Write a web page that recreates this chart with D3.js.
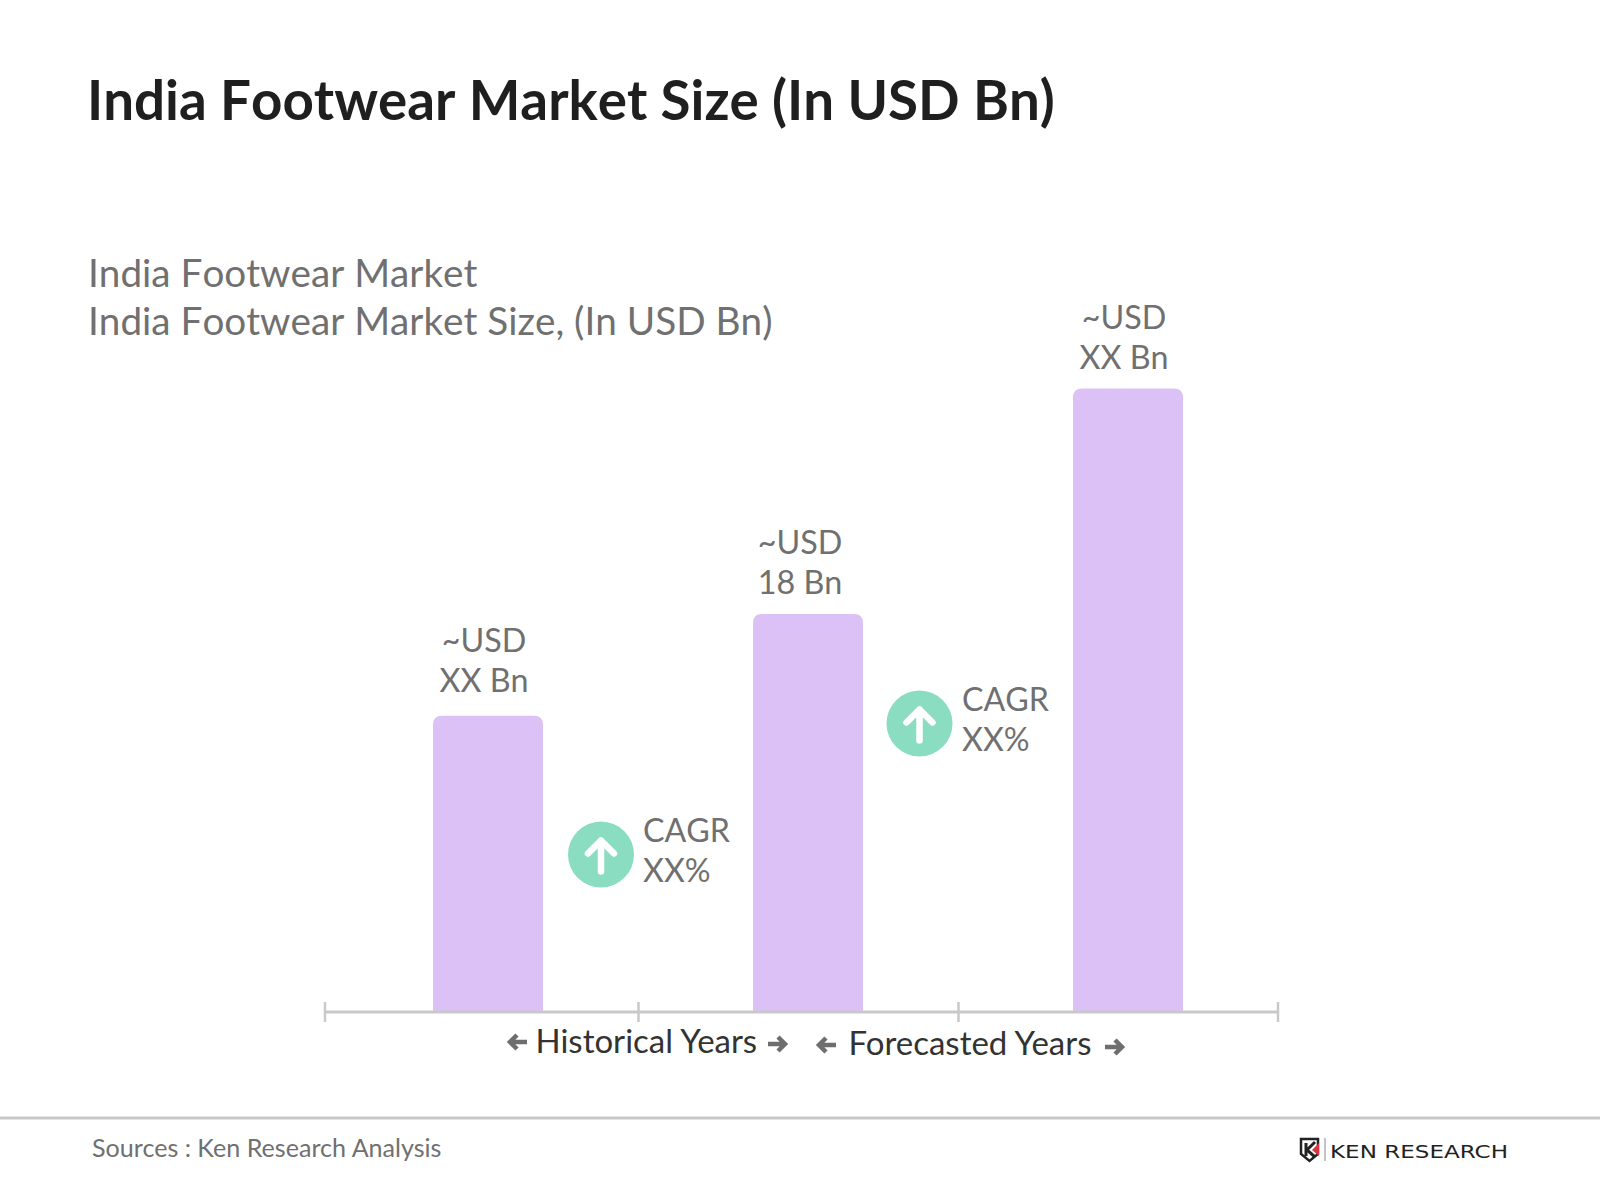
<!DOCTYPE html>
<html lang="en">
<head>
    <meta charset="utf-8">
    <title>India Footwear Market Size</title>
    <script src="https://d3js.org/d3.v7.min.js"></script>
    <style>
        html, body { margin: 0; padding: 0; background: #fff; }
        text { font-family: Lato, sans-serif; }
    </style>
</head>
<body>
    <div id="chart-container"></div>

    <script>
        // values, the middle bar is the only one labelled with a number
        const periods = ['Start', 'Base', 'End'];
        const marketSize = [13.4, 18, 28.2];
        const barLabels = [['~USD', 'XX Bn'], ['~USD', '18 Bn'], ['~USD', 'XX Bn']];
        const cagrLabels = [['CAGR', 'XX%'], ['CAGR', 'XX%']];
        const axisStops = [0, 1, 2, 3];
        const axisLabels = ['Historical Years', 'Forecasted Years'];

        const width = 1600;
        const height = 1200;
        const baseline = 1012;

        const svg = d3.select('#chart-container')
            .append('svg')
            .attr('width', width)
            .attr('height', height)
            .style('display', 'block');

        const xScale = d3.scalePoint()// bar centres
            .domain(periods)
            .range([488, 1128]);

        const yScale = d3.scaleLinear()
            .domain([0, 18])
            .range([baseline, 614]);

        const stopScale = d3.scaleOrdinal()// axis ticks are not evenly spaced
            .domain(axisStops)
            .range([324.5, 638, 958, 1277.5]);

        const barWidth = 110;
        const grey = '#707070';

        // Titles
        svg.append('text')
            .attr('x', 87)
            .attr('y', 120)
            .style('font-size', '54.7px')
            .style('font-weight', 700)
            .style('font-kerning', 'none')
            .style('fill', '#1f1f1f')
            .text('India Footwear Market Size (In USD Bn)');
        ['India Footwear Market', 'India Footwear Market Size, (In USD Bn)'].forEach((line, i) => {
            svg.append('text')
                .attr('x', 88)
                .attr('y', 287 + i * 48)
                .style('font-size', '38.7px')
                .style('font-kerning', 'none')
                .style('fill', grey)
                .text(line);
        });

        // Bars, only the top corners are rounded
        svg.selectAll('path.bar')
            .data(marketSize)
            .enter()
            .append('path')
            .attr('class', 'bar')
            .attr('fill', '#dcc1f6')
            .attr('d', (d, i) => {
                const x0 = xScale(periods[i]) - barWidth / 2;
                const y0 = yScale(d);
                const r = 9;
                return `M${x0},${baseline}V${y0 + r}Q${x0},${y0} ${x0 + r},${y0}H${x0 + barWidth - r}Q${x0 + barWidth},${y0} ${x0 + barWidth},${y0 + r}V${baseline}Z`;
            });

        // Bar labels, hand placed like the original
        const labelNudge = [[-4, -4], [-8, 0], [-4, 1]];
        barLabels.forEach((lines, i) => {
            lines.forEach((line, j) => {
                svg.append('text')
                    .attr('x', xScale(periods[i]) + labelNudge[i][0])
                    .attr('y', yScale(marketSize[i]) - 60 + labelNudge[i][1] + j * 40)
                    .attr('text-anchor', 'middle')
                    .style('font-size', '32.3px')
                    .style('font-kerning', 'none')
                    .style('fill', grey)
                    .text(line);
            });
        });

        // Axis
        const xAxis = d3.axisBottom(stopScale)
            .tickSize(10)
            .tickFormat('');
        const axisGroup = svg.append('g')
            .attr('transform', `translate(0,${baseline})`)
            .call(xAxis);
        axisGroup.select('.domain')
            .attr('d', `M${stopScale(0)},0H${stopScale(3)}`)
            .attr('stroke', '#c9c9c9')
            .attr('stroke-width', 3);
        axisGroup.selectAll('.tick line')
            .attr('y1', -10)
            .attr('stroke', '#c9c9c9')
            .attr('stroke-width', 2.5);

        // Small grey arrows around the axis labels
        function smallArrow(x, y, dir) {
            svg.append('path')
                .attr('transform', `translate(${x},${y}) scale(${dir},1)`)
                .attr('d', 'M-9,0H8M1,-7L8,0L1,7')
                .attr('fill', 'none')
                .attr('stroke', '#6e6e6e')
                .attr('stroke-width', 4.5);
        }
        const axisText = [
            { x: 535.5, y: 1053, arrows: [[518, 1042, -1], [777, 1044, 1]] },
            { x: 848.5, y: 1055, arrows: [[827, 1045, -1], [1114, 1047, 1]] }
        ];
        axisLabels.forEach((label, i) => {
            svg.append('text')
                .attr('x', axisText[i].x)
                .attr('y', axisText[i].y)
                .style('font-size', '33px')
                .style('fill', '#333')
                .text(label);
            axisText[i].arrows.forEach(a => smallArrow(a[0], a[1], a[2]));
        });

        // CAGR badges
        const badges = [
            { cx: 601, cy: 854.5, tx: 643, ty: 842 },
            { cx: 919.5, cy: 723.5, tx: 962, ty: 711 }
        ];
        badges.forEach((b, i) => {
            svg.append('circle')
                .attr('cx', b.cx)
                .attr('cy', b.cy)
                .attr('r', 33)
                .attr('fill', '#8addc0');
            svg.append('path')
                .attr('transform', `translate(${b.cx},${b.cy})`)
                .attr('d', 'M0,17V-14M-13,-1L0,-14L13,-1')
                .attr('fill', 'none')
                .attr('stroke', '#fff')
                .attr('stroke-width', 6.5)
                .attr('stroke-linecap', 'round')
                .attr('stroke-linejoin', 'round');
            cagrLabels[i].forEach((line, j) => {
                svg.append('text')
                    .attr('x', b.tx)
                    .attr('y', b.ty + j * 40)
                    .style('font-size', '32.2px')
                    .style('font-kerning', 'none')
                    .style('fill', grey)
                    .text(line);
            });
        });

        // Footer
        svg.append('line')
            .attr('x1', 0)
            .attr('x2', width)
            .attr('y1', 1118)
            .attr('y2', 1118)
            .attr('stroke', '#c9c9c9')
            .attr('stroke-width', 3);
        svg.append('text')
            .attr('x', 92)
            .attr('y', 1157)
            .style('font-size', '25.1px')
            .style('fill', grey)
            .text('Sources : Ken Research Analysis');

        // Logo
        const logo = svg.append('g').attr('transform', 'translate(1300,1138)');
        logo.append('path')
            .attr('d', 'M1,1H18V16L9.5,23L1,16Z')
            .attr('fill', '#fff')
            .attr('stroke', '#222')
            .attr('stroke-width', 2.5);
        logo.append('path')
            .attr('d', 'M6,5V18M15,4L7,12L15,19')
            .attr('fill', 'none')
            .attr('stroke', '#222')
            .attr('stroke-width', 3);
        logo.append('path')
            .attr('d', 'M19,5L12,12L19,18Z')
            .attr('fill', '#d8343f');
        logo.append('line')
            .attr('x1', 25)
            .attr('x2', 25)
            .attr('y1', 0)
            .attr('y2', 23)
            .attr('stroke', '#888')
            .attr('stroke-width', 1);
        logo.append('text')
            .attr('x', 30)
            .attr('y', 20)
            .attr('textLength', 178)
            .attr('lengthAdjust', 'spacingAndGlyphs')
            .style('font-family', '"DejaVu Sans", sans-serif')
            .style('font-size', '18px')
            .style('fill', '#222')
            .text('KEN RESEARCH');
    </script>
</body>
</html>
